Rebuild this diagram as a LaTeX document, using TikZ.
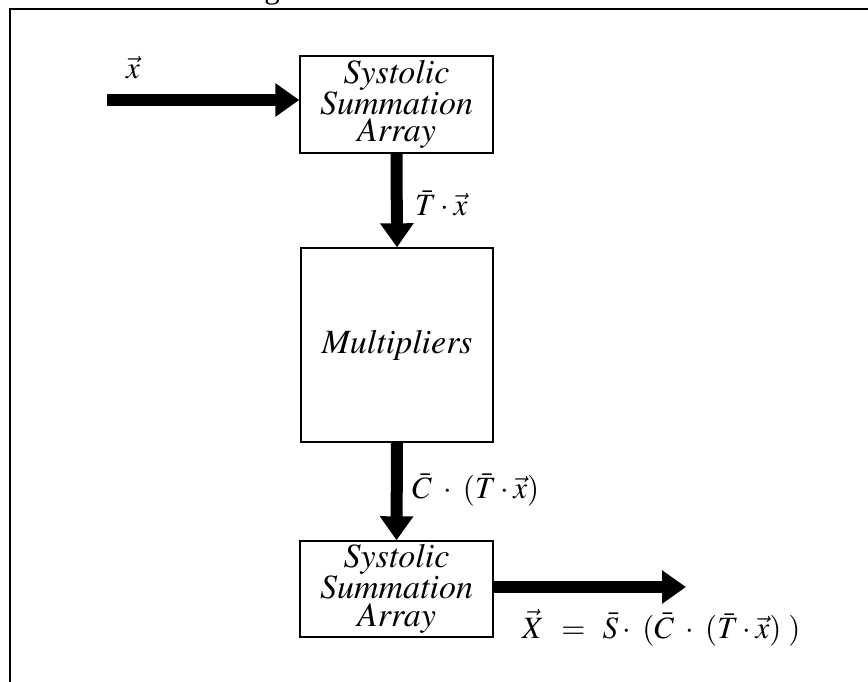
\documentclass[tikz,border=0pt]{standalone}
\usepackage{mathptmx}
\usepackage[no-math]{fontspec}
\setmainfont{Liberation Serif}
\usetikzlibrary{arrows.meta}
\newcommand{\bt}[1]{$\mathit{#1}$}
\begin{document}
\begin{tikzpicture}[x=1pt,y=-1pt,
  blk/.style={draw,line width=1.4pt,inner sep=0pt,align=center,
    font=\fontsize{34}{27.5}\selectfont},
  flow/.style={line width=12pt,-{Triangle[length=24pt,width=32pt]}},
  lbl/.style={inner sep=0pt,font=\fontsize{31}{31}\selectfont}]
\useasboundingbox (0,0) rectangle (868,682);
\draw[line width=2pt] (10,682) -- (10,9) -- (868,9);
\node[lbl,anchor=base] (cap) at (272,-1) {g};
\node[blk,minimum width=193pt,minimum height=97pt] (s1) at (396.5,104.5) {\bt{Systolic}\\\bt{Summation}\\\bt{Array}};
\node[blk,minimum width=192pt,minimum height=194pt] (m) at (397,345) {\bt{Multipliers}};
\node[blk,minimum width=193pt,minimum height=96pt] (s2) at (396.5,589) {\bt{Systolic}\\\bt{Summation}\\\bt{Array}};
\coordinate (in) at (107,100);
\coordinate (out) at (686,587);
\draw[flow] (in) -- (in -| s1.west);
\draw[flow] (s1.south) -- (m.north);
\draw[flow] (m.south) -- (s2.north);
\draw[flow] (s2.east |- out) -- (out);
\node[lbl] (lx) at (133,68) {$\vec{x}$};
\node[lbl,anchor=west] (l1) at (415,203) {$\bar{T}\cdot\vec{x}$};
\node[lbl,anchor=west] (l2) at (412,490) {$\bar{C}\;\cdot\;(\bar{T}\cdot\vec{x})$};
\node[lbl,anchor=west] (l3) at (522,628) {$\vec{X}\;\,=\;\,\bar{S}\cdot\;(\bar{C}\;\cdot\;(\bar{T}\cdot\vec{x})\;)$};
\end{tikzpicture}
\end{document}
